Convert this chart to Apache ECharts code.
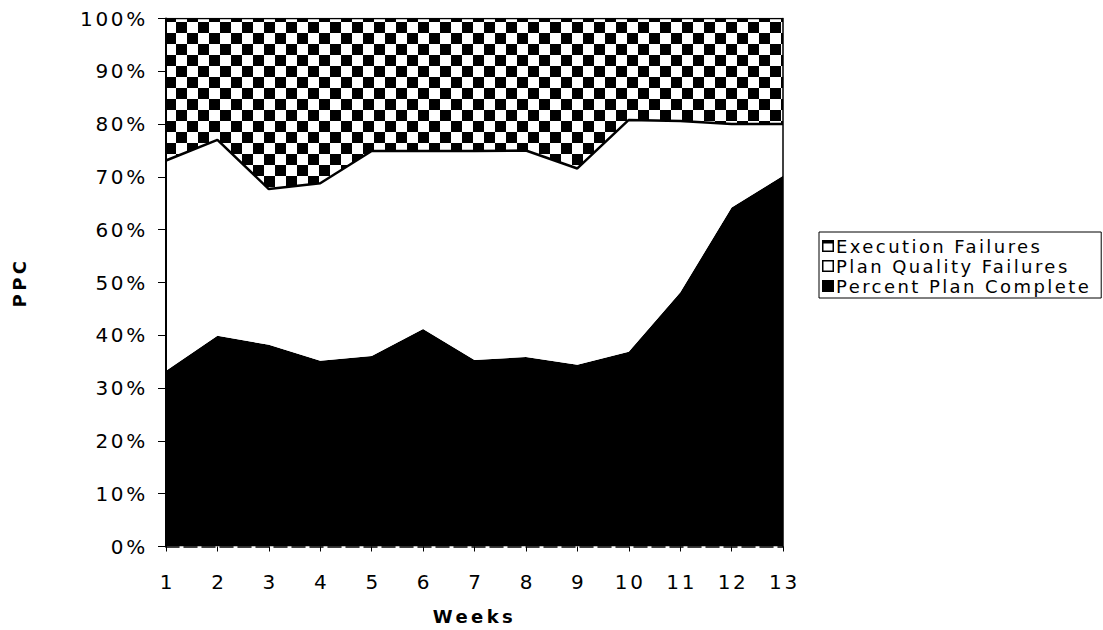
<!DOCTYPE html>
<html>
<head>
<meta charset="utf-8">
<script src="https://cdn.jsdelivr.net/npm/echarts@6/dist/echarts.min.js"></script>
<style>
html,body{margin:0;padding:0;background:#fff;}
#chart{width:1103px;height:630px;}
#chart text{letter-spacing:0.135em;}
#chart text[style*="bold"]{letter-spacing:0.19em;}
</style>
</head>
<body>
<div id="chart"></div>
<script>
var weeks = ['1','2','3','4','5','6','7','8','9','10','11','12','13'];
var percentPlanComplete = [33.3, 39.9, 38.2, 35.2, 36.1, 41.2, 35.3, 35.9, 34.4, 36.9, 48.1, 64.2, 70.2];
var planQualityFailures = [39.8, 37.1, 29.5, 33.6, 38.8, 33.7, 39.6, 39.1, 37.2, 43.9, 32.5, 15.8, 9.8];
var executionFailures = [26.9, 23.0, 32.3, 31.2, 25.1, 25.1, 25.1, 25.0, 28.4, 19.2, 19.4, 20.0, 20.0];
var yTicks = [0, 10, 20, 30, 40, 50, 60, 70, 80, 90, 100];

function checker(size) {
  var c = document.createElement('canvas');
  c.width = size * 2; c.height = size * 2;
  var ctx = c.getContext('2d');
  ctx.fillStyle = '#fff'; ctx.fillRect(0, 0, size * 2, size * 2);
  ctx.fillStyle = '#000';
  ctx.fillRect(0, 0, size, size);
  ctx.fillRect(size, size, size, size);
  return c;
}
var pattern = { image: checker(11), repeat: 'repeat', imageWidth: 22, imageHeight: 22 };

var font = 'DejaVu Sans';
var chart = echarts.init(document.getElementById('chart'), null, { renderer: 'svg' });
chart.setOption({
  animation: false,
  backgroundColor: '#fff',
  grid: { left: 166, right: 320, top: 18.5, bottom: 83.5, containLabel: false, outerBoundsMode: 'none' },
  legend: {
    orient: 'vertical',
    left: 819, top: 232,
    borderColor: '#000', borderWidth: 1, borderRadius: 0,
    padding: [5, 61, 3, 3],
    itemGap: 2, itemWidth: 12, itemHeight: 12,
    textStyle: { fontFamily: font, fontSize: 18, color: '#000', padding: [0, 0, 0, -3] },
    data: [
      { name: 'Execution Failures', icon: 'path://M0,0H12V12H0Z M1.5,3.5V10.5H10.5V3.5Z', itemStyle: { color: '#000', borderWidth: 0 } },
      { name: 'Plan Quality Failures', icon: 'path://M0,0H12V12H0Z M1.5,1.5V10.5H10.5V1.5Z', itemStyle: { color: '#000', borderWidth: 0 } },
      { name: 'Percent Plan Complete', icon: 'rect', itemStyle: { color: '#000', borderWidth: 0 } }
    ]
  },
  xAxis: {
    type: 'category',
    data: weeks,
    boundaryGap: false,
    name: 'Weeks',
    nameLocation: 'middle',
    nameGap: 61,
    nameMoveOverlap: false,
    nameTextStyle: { fontFamily: font, fontSize: 18, fontWeight: 'bold', color: '#000' },
    axisLine: { show: true, lineStyle: { color: '#000', width: 1.5, type: [13, 5] } },
    axisTick: { show: true, length: 5, lineStyle: { color: '#000' } },
    axisLabel: { fontFamily: font, fontSize: 20, color: '#000', margin: 25, padding: [0, 0, 0, 3] },
    splitLine: { show: false },
    z: 10
  },
  yAxis: [{
    type: 'value',
    min: 0, max: 100, interval: 10,
    name: 'PPC',
    nameLocation: 'middle',
    nameRotate: 90,
    nameGap: 138,
    nameMoveOverlap: false,
    nameTextStyle: { fontFamily: font, fontSize: 18, fontWeight: 'bold', color: '#000' },
    axisLine: { show: true, lineStyle: { color: '#000', width: 2 } },
    axisTick: { show: true, length: 8, lineStyle: { color: '#000' } },
    axisLabel: {
      fontFamily: font, fontSize: 20, color: '#000', margin: 18,
      formatter: function (v) { return yTicks.indexOf(v) >= 0 ? v + '%' : ''; }
    },
    splitLine: { show: false },
    z: 10
  }, {
    type: 'value',
    min: 0, max: 100, interval: 10,
    position: 'right',
    axisLine: { show: true, lineStyle: { color: '#000', width: 1.5 } },
    axisTick: { show: false },
    axisLabel: { show: false },
    splitLine: { show: false },
    z: 10
  }],
  series: [
    {
      name: 'Percent Plan Complete',
      type: 'line',
      stack: 'total',
      data: percentPlanComplete,
      symbol: 'none',
      lineStyle: { width: 0, color: '#000' },
      itemStyle: { color: '#000' },
      areaStyle: { color: '#000', opacity: 1 },
      z: 3
    },
    {
      name: 'Plan Quality Failures',
      type: 'line',
      stack: 'total',
      data: planQualityFailures,
      symbol: 'none',
      lineStyle: { width: 2.5, color: '#000' },
      itemStyle: { color: '#000' },
      areaStyle: { color: '#fff', opacity: 1 },
      z: 4
    },
    {
      name: 'Execution Failures',
      type: 'line',
      stack: 'total',
      data: executionFailures,
      symbol: 'none',
      lineStyle: { width: 1.5, color: '#000' },
      itemStyle: { color: '#000' },
      areaStyle: { color: pattern, opacity: 1 },
      z: 2
    }
  ]
});
</script>
</body>
</html>
